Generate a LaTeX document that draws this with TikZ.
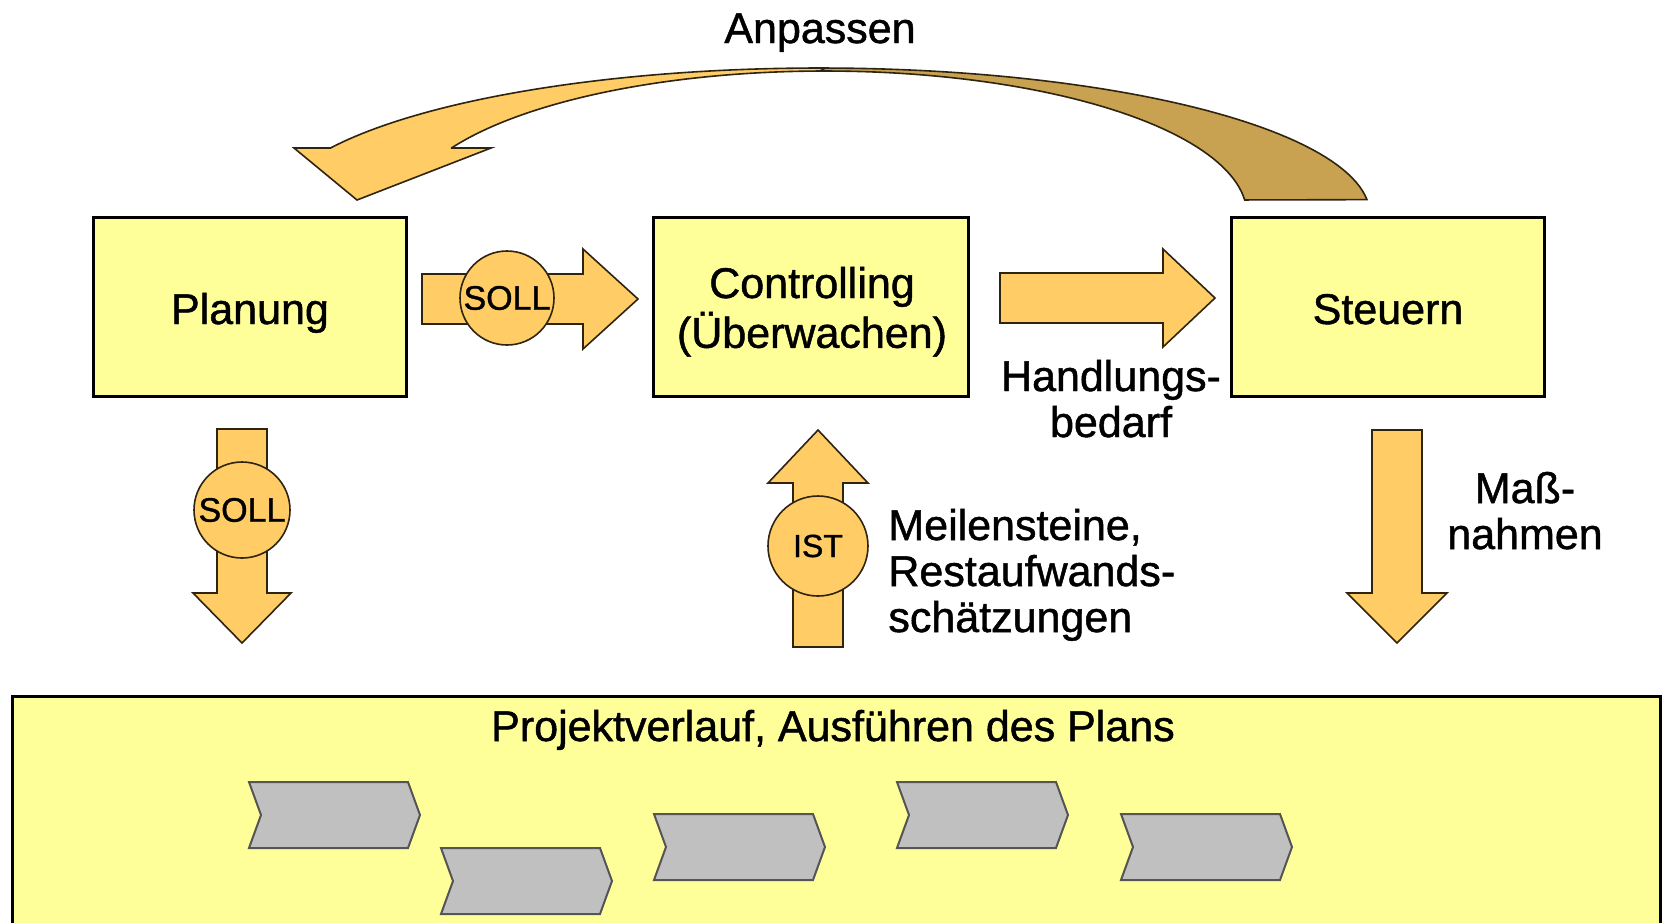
\documentclass[tikz,border=0pt]{standalone}
\usepackage{fontspec}
\setmainfont{Liberation Sans}
% slightly emboldened regular face for the labels
\newfontfamily\labelfont{Liberation Sans}[FakeBold=1.1]
\definecolor{boxfill}{HTML}{FFFF99}
\definecolor{arrowfill}{HTML}{FFCC66}
\definecolor{arrowdark}{HTML}{C9A251}
\definecolor{arrowline}{HTML}{2E2410}
\definecolor{chevfill}{HTML}{C0C0C0}
\definecolor{chevline}{HTML}{555555}
% multi-line text whose reference point is the first baseline
\newcommand\linestack[2][c]{\begin{tabular}[t]{@{}#1@{}}#2\end{tabular}}
% one process step of the project run
\newcommand\stepchevron[2]{\filldraw[chevron] (#1,#2) -- ++(159,0) -- ++(12,33) -- ++(-12,33) -- ++(-159,0) -- ++(12,-33) -- cycle;}

\begin{document}
\begin{tikzpicture}[x=0.5pt,y=-0.5pt,
  box/.style={draw=black, line width=1.5pt, fill=boxfill, inner sep=0pt, minimum height=89.5pt},
  lbl/.style={inner sep=0pt, anchor=base, font=\labelfont\fontsize{21.5}{23}\selectfont},
  bigarrow/.style={fill=arrowfill, draw=arrowline, line width=0.8pt, line join=miter},
  disc/.style={circle, fill=arrowfill, draw=arrowline, line width=0.8pt, inner sep=0pt, font=\labelfont\fontsize{17}{20}\selectfont},
  chevron/.style={fill=chevfill, draw=chevline, line width=1pt}
]
\useasboundingbox (0,0) rectangle (1666,923);

% project run area
\fill[boxfill] (12,696) rectangle (1660,923);
\draw[line width=1.5pt] (12,923) -- (12,696) -- (1660,696) -- (1660,923);
\node[lbl] (run) at (833,741) {Projektverlauf, Ausführen des Plans};
\stepchevron{249}{782}
\stepchevron{441}{848}
\stepchevron{654}{814}
\stepchevron{897}{782}
\stepchevron{1121}{814}

% the three phases
\node[box, minimum width=156.5pt] (planung) at (250,307) {};
\node[box, minimum width=157.5pt] (controlling) at (811,307) {};
\node[box, minimum width=156.5pt] (steuern) at (1388,307) {};
\node[lbl] (planung-text) at (250,324) {Planung};
\node[lbl] (controlling-text) at (812,298) {\linestack{Controlling\\(Überwachen)}};
\node[lbl] (steuern-text) at (1388,324) {Steuern};

% curved feedback arrow: dark back part, then light front part with head
\filldraw[fill=arrowdark, draw=arrowline, line width=0.8pt]
  plot[domain=-6:-90, samples=50] ({820+550*cos(\x)},{215+147*sin(\x)})
  -- plot[domain=-90:-6, samples=50] ({825+422*cos(\x)},{215+144*sin(\x)}) -- cycle;
\filldraw[bigarrow]
  plot[domain=-90:-152.9, samples=50] ({820+550*cos(\x)},{215+147*sin(\x)})
  -- (294,148) -- (357,200) -- (491,148) -- (451,148)
  -- plot[domain=-152.3:-90, samples=50] ({825+422*cos(\x)},{215+144*sin(\x)}) -- cycle;
\node[lbl] (anpassen) at (820,43) {Anpassen};

% SOLL: Planung -> Controlling
\filldraw[bigarrow] (422,274) -- (583,274) -- (583,249) -- (638,299) -- (583,349) -- (583,324) -- (422,324) -- cycle;
\node[disc, minimum size=47pt] (soll-a) at (507,298) {SOLL};

% Controlling -> Steuern
\filldraw[bigarrow] (1000,273) -- (1163,273) -- (1163,249) -- (1215,298) -- (1163,347) -- (1163,323) -- (1000,323) -- cycle;
\node[lbl] (handlung) at (1111,391) {\linestack{Handlungs-\\bedarf}};

% SOLL: Planung -> project run
\filldraw[bigarrow] (217,429) -- (267,429) -- (267,593) -- (291,593) -- (242,643) -- (193,593) -- (217,593) -- cycle;
\node[disc, minimum size=48pt] (soll-b) at (242,510) {SOLL};

% IST: project run -> Controlling
\filldraw[bigarrow] (793,647) -- (843,647) -- (843,483) -- (868,483) -- (818,430) -- (768,483) -- (793,483) -- cycle;
\node[disc, minimum size=50pt, font=\labelfont\fontsize{16}{19}\selectfont] (ist) at (818,546) {IST};
\node[lbl, anchor=base west] (meilen) at (888,540) {\linestack[l]{Meilensteine,\\Restaufwands-\\schätzungen}};

% Steuern -> project run
\filldraw[bigarrow] (1372,430) -- (1422,430) -- (1422,593) -- (1447,593) -- (1397,643) -- (1347,593) -- (1372,593) -- cycle;
\node[lbl] (massnahmen) at (1525,503) {\linestack{Maß-\\nahmen}};
\end{tikzpicture}
\end{document}
